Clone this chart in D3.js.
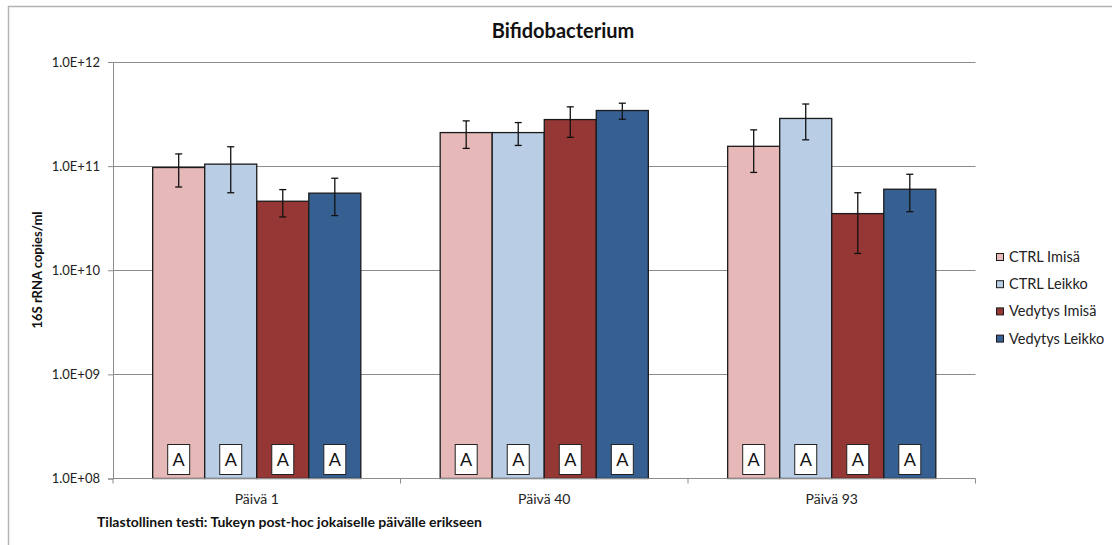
<!DOCTYPE html>
<html>
<head>
<meta charset="utf-8">
<script src="https://cdn.jsdelivr.net/npm/d3@7"></script>
<style>
  html, body { margin: 0; padding: 0; background: #fff; }
  svg { display: block; font-family: Lato, "Liberation Sans", sans-serif; }
</style>
</head>
<body>
<svg id="chart" width="1112" height="545"></svg>
<script>
// Sampling days and treatment groups
const categories = ["Päivä 1", "Päivä 40", "Päivä 93"];
const seriesNames = ["CTRL Imisä", "CTRL Leikko", "Vedytys Imisä", "Vedytys Leikko"];
const seriesColors = ["#E6B9B8", "#B9CDE5", "#953735", "#376092"];

// Mean 16S rRNA copies/ml per group, one entry per day
const ctrlImisa     = [9.7e10, 2.1e11, 1.55e11];
const ctrlLeikko    = [1.045e11, 2.1e11, 2.87e11];
const vedytysImisa  = [4.6e10, 2.8e11, 3.5e10];
const vedytysLeikko = [5.5e10, 3.42e11, 6.0e10];

// Standard deviations (error bars)
const ctrlImisaSd     = [3.4e10, 6.2e10, 6.8e10];
const ctrlLeikkoSd    = [4.9e10, 5.2e10, 1.08e11];
const vedytysImisaSd  = [1.35e10, 9.1e10, 2.05e10];
const vedytysLeikkoSd = [2.15e10, 6.0e10, 2.35e10];

// Tukey grouping letters
const ctrlImisaLetters     = ["A", "A", "A"];
const ctrlLeikkoLetters    = ["A", "A", "A"];
const vedytysImisaLetters  = ["A", "A", "A"];
const vedytysLeikkoLetters = ["A", "A", "A"];

const yTicks = [1e8, 1e9, 1e10, 1e11, 1e12];

const seriesValues = [ctrlImisa, ctrlLeikko, vedytysImisa, vedytysLeikko];
const seriesSd = [ctrlImisaSd, ctrlLeikkoSd, vedytysImisaSd, vedytysLeikkoSd];
const seriesLetters = [ctrlImisaLetters, ctrlLeikkoLetters, vedytysImisaLetters, vedytysLeikkoLetters];

const rows = [];
categories.forEach((c, ci) => {
  seriesNames.forEach((s, si) => {
    rows.push({ cat: c, series: s, si, value: seriesValues[si][ci], sd: seriesSd[si][ci], letter: seriesLetters[si][ci] });
  });
});

const svg = d3.select("#chart");
const plot = { left: 113, right: 975.5, top: 62, bottom: 478.5 };

// Outer chart frame
svg.append("rect")
  .attr("x", 8.5).attr("y", 6.5).attr("width", 1130).attr("height", 560)
  .attr("fill", "#fff").attr("stroke", "#b3b3b3").attr("stroke-width", 1.5);

const y = d3.scaleLog().domain([1e8, 1e12]).range([plot.bottom, plot.top]);
const x0 = d3.scaleBand().domain(categories).range([plot.left, plot.right])
  .paddingInner(0.276).paddingOuter(0.138);
const x1 = d3.scaleBand().domain(seriesNames).range([0, x0.bandwidth()]).padding(0);

const fmt = d => "1.0E+" + String(Math.round(Math.log10(d))).padStart(2, "0");

// Horizontal gridlines
svg.append("g").selectAll("line").data(yTicks.slice(1)).join("line")
  .attr("x1", plot.left).attr("x2", plot.right)
  .attr("y1", d => Math.round(y(d)) + 0.5).attr("y2", d => Math.round(y(d)) + 0.5)
  .attr("stroke", "#8c8c8c").attr("stroke-width", 1);

// Y axis
const yAxis = svg.append("g").attr("transform", `translate(${plot.left},0)`)
  .call(d3.axisLeft(y).tickValues(yTicks).tickFormat(fmt).tickSize(5).tickPadding(8));
yAxis.select(".domain").attr("stroke", "#8c8c8c");
yAxis.selectAll(".tick line").attr("stroke", "#8c8c8c");
yAxis.selectAll(".tick text").attr("font-size", 13).attr("fill", "#222")
  .attr("font-family", "Lato, 'Liberation Sans', sans-serif");

// Bars
const groups = svg.append("g").selectAll("g").data(categories).join("g")
  .attr("transform", d => `translate(${x0(d)},0)`);

groups.selectAll("rect.bar").data(c => rows.filter(r => r.cat === c)).join("rect")
  .attr("class", "bar")
  .attr("x", d => x1(d.series))
  .attr("y", d => y(d.value))
  .attr("width", x1.bandwidth())
  .attr("height", d => y(1e8) - y(d.value))
  .attr("fill", d => seriesColors[d.si])
  .attr("stroke", "#1a1a1a").attr("stroke-width", 1.3);

// Error bars
const eb = groups.selectAll("g.err").data(c => rows.filter(r => r.cat === c)).join("g")
  .attr("class", "err")
  .attr("transform", d => `translate(${x1(d.series) + x1.bandwidth() / 2},0)`);
eb.append("line").attr("x1", 0).attr("x2", 0)
  .attr("y1", d => y(d.value + d.sd)).attr("y2", d => y(d.value - d.sd))
  .attr("stroke", "#111").attr("stroke-width", 1.3);
eb.append("line").attr("x1", -3.5).attr("x2", 3.5)
  .attr("y1", d => y(d.value + d.sd)).attr("y2", d => y(d.value + d.sd))
  .attr("stroke", "#111").attr("stroke-width", 1.3);
eb.append("line").attr("x1", -3.5).attr("x2", 3.5)
  .attr("y1", d => y(d.value - d.sd)).attr("y2", d => y(d.value - d.sd))
  .attr("stroke", "#111").attr("stroke-width", 1.3);

// Letter boxes at the bar bases
const lb = groups.selectAll("g.letter").data(c => rows.filter(r => r.cat === c)).join("g")
  .attr("class", "letter")
  .attr("transform", d => `translate(${x1(d.series) + x1.bandwidth() / 2},${plot.bottom - 19})`);
lb.append("rect").attr("x", -11).attr("y", -15).attr("width", 22).attr("height", 30)
  .attr("fill", "#fff").attr("stroke", "#222").attr("stroke-width", 1);
lb.append("text").attr("text-anchor", "middle").attr("dy", "0.36em")
  .attr("font-size", 18).attr("fill", "#111").text(d => d.letter);

// Category axis
svg.append("line").attr("x1", plot.left).attr("x2", plot.right)
  .attr("y1", plot.bottom).attr("y2", plot.bottom)
  .attr("stroke", "#8c8c8c").attr("stroke-width", 1.2);
const bounds = [plot.left, ...categories.map(c => x0(c) - x0.step() * 0.138 + x0.step())];
svg.append("g").selectAll("line").data(bounds).join("line")
  .attr("x1", d => d).attr("x2", d => d)
  .attr("y1", plot.bottom).attr("y2", plot.bottom + 5)
  .attr("stroke", "#8c8c8c");
svg.append("g").selectAll("text").data(categories).join("text")
  .attr("x", d => x0(d) + x0.bandwidth() / 2).attr("y", 504)
  .attr("text-anchor", "middle").attr("font-size", 14).attr("fill", "#222")
  .text(d => d);

// Title
svg.append("text").attr("x", 563).attr("y", 38).attr("text-anchor", "middle")
  .attr("font-size", 20).attr("font-weight", "bold").attr("fill", "#111")
  .text("Bifidobacterium");

// Y axis title
svg.append("text").attr("transform", "translate(42,270) rotate(-90)")
  .attr("text-anchor", "middle").attr("font-size", 13).attr("font-weight", "bold")
  .attr("fill", "#111").text("16S rRNA copies/ml");

// Footnote
svg.append("text").attr("x", 97).attr("y", 526.5)
  .attr("font-size", 14).attr("font-weight", "bold").attr("fill", "#111")
  .text("Tilastollinen testi: Tukeyn post-hoc jokaiselle päivälle erikseen");

// Legend
const lg = svg.append("g").selectAll("g").data(seriesNames).join("g")
  .attr("transform", (d, i) => `translate(996,${257 + i * 27.2})`);
lg.append("rect").attr("x", 0.5).attr("y", -3.5).attr("width", 7).attr("height", 7)
  .attr("fill", (d, i) => seriesColors[i]).attr("stroke", "#1a1a1a").attr("stroke-width", 1);
lg.append("text").attr("x", 13).attr("dy", "0.35em").attr("font-size", 14.5)
  .attr("fill", "#222").text(d => d);
</script>
</body>
</html>
